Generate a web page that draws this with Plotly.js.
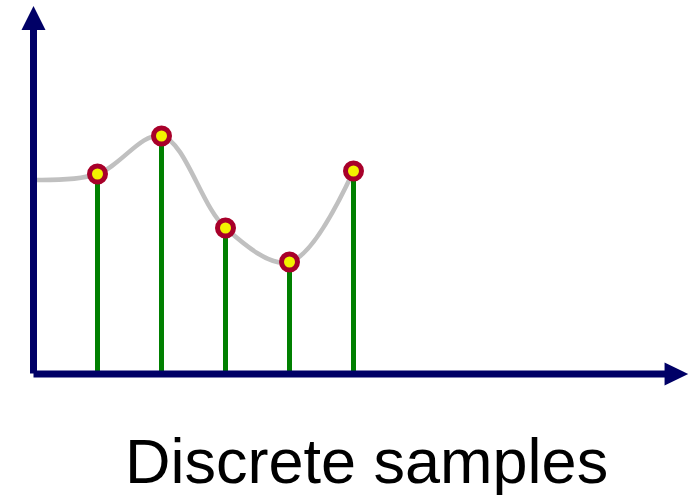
<!DOCTYPE html>
<html>
<head>
<meta charset="utf-8">
<script src="https://cdn.plot.ly/plotly-3.0.1.min.js"></script>
<style>html,body{margin:0;padding:0;background:#fff;}#chart{width:694px;height:495px;}</style>
</head>
<body>
<div id="chart"></div>
<script>
// Sample positions and values
const sampleX = [1, 2, 3, 4, 5];
const sampleY = [2.00, 2.38, 1.46, 1.12, 2.03];
// Underlying continuous signal: starts at the axis, passes through the samples
const curveX = [0, 1, 2, 3, 4, 5];
const curveY = [1.94, 2.00, 2.38, 1.46, 1.12, 2.03];
const titleText = "Discrete samples";

const navy = "#000066";

// stems built from the sample arrays
const stemX = [], stemY = [];
sampleX.forEach((x, i) => { stemX.push(x, x, null); stemY.push(0, sampleY[i], null); });

const traces = [
  {x: curveX, y: curveY, mode: "lines", line: {color: "#c0c0c0", width: 4.5, shape: "spline", smoothing: 1},
   hoverinfo: "skip", showlegend: false},
  {x: stemX, y: stemY, mode: "lines", line: {color: "#008000", width: 5}, hoverinfo: "skip", showlegend: false},
  {x: sampleX, y: sampleY, mode: "markers", showlegend: false,
   marker: {size: 16, color: "#f2f200", line: {color: "#a8002a", width: 5}}}
];

// axis lines with arrow heads (x units: 64 px, y units: 100 px)
const xEnd = 9.87, xTip = 10.23, yEnd = 3.45, yTip = 3.68;
const layout = {
  width: 694, height: 495,
  margin: {l: 0, r: 0, t: 0, b: 0},
  paper_bgcolor: "#ffffff", plot_bgcolor: "#ffffff",
  xaxis: {range: [-0.5234, 10.3203], visible: false, fixedrange: true},
  yaxis: {range: [-1.21, 3.74], visible: false, fixedrange: true},
  shapes: [
    {type: "line", xref: "x", yref: "y", x0: 0, x1: 0, y0: 0.005, y1: yEnd, line: {color: navy, width: 7}},
    {type: "line", xref: "x", yref: "y", x0: 0, x1: xEnd, y0: 0, y1: 0, line: {color: navy, width: 7}},
    {type: "path", xref: "x", yref: "y", fillcolor: navy, line: {width: 0},
     path: `M -0.1875 ${yEnd - 0.01} L 0.1875 ${yEnd - 0.01} L 0 ${yTip} Z`},
    {type: "path", xref: "x", yref: "y", fillcolor: navy, line: {width: 0},
     path: `M ${xEnd - 0.01} -0.115 L ${xEnd - 0.01} 0.115 L ${xTip} 0 Z`}
  ],
  annotations: [
    {text: titleText, xref: "paper", yref: "paper", x: 367 / 694, y: 1 - 461 / 495,
     xanchor: "center", yanchor: "middle", showarrow: false,
     font: {family: "Liberation Sans, Arial, sans-serif", size: 63, color: "#000000"}}
  ]
};

Plotly.newPlot("chart", traces, layout, {displayModeBar: false, staticPlot: true});
</script>
</body>
</html>
